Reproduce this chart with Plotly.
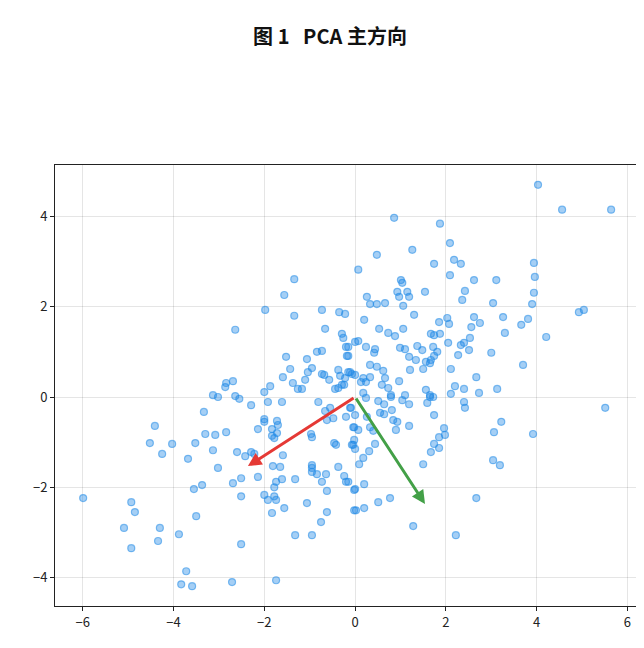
import plotly.graph_objects as go

pts = [
(-1.34,2.61),(-1.56,2.26),(-1.98,1.93),(-1.34,1.80),(-2.64,1.49),(-0.73,1.93),(-0.35,1.88),(-0.22,1.84),
(-0.66,1.51),(-0.29,1.40),(-0.26,1.31),(-0.20,1.11),(-0.18,0.91),(-1.52,0.89),(-1.06,0.84),(-0.84,1.00),
(-0.73,1.02),(-1.43,0.62),(-0.95,0.64),(-1.04,0.55),(-1.59,0.44),(-1.10,0.38),(-1.37,0.31),(-1.26,0.18),
(-1.17,0.18),(-0.73,0.51),(-0.68,0.49),(-0.57,0.38),(-0.37,0.60),(-0.33,0.47),(-0.15,0.55),(-0.07,0.51),
(-0.22,0.42),(-0.44,0.18),(-0.37,0.20),(-0.29,0.27),(-0.24,0.27),(-2.69,0.35),(-2.84,0.31),(-2.86,0.22),
(-1.87,0.24),(-2.00,0.11),(-3.13,0.04),(-3.02,0.0),(-2.64,0.02),(0.0,1.22),
(4.03,4.70),(4.56,4.15),(5.64,4.15),(0.86,3.97),(1.87,3.84),(2.09,3.41),(0.48,3.15),(1.26,3.26),(0.07,2.82),
(1.74,2.95),(2.18,3.04),(2.33,2.95),(2.09,2.70),(2.62,2.59),(3.11,2.59),(3.94,2.97),(3.96,2.66),(3.94,2.31),
(3.90,2.06),(3.04,2.08),(2.42,2.35),(2.36,2.15),(1.01,2.59),(1.04,2.53),(0.93,2.33),(1.15,2.33),(0.97,2.22),
(1.19,2.22),(1.54,2.33),(0.26,2.22),(0.33,2.06),(0.48,2.06),(0.66,2.08),(1.06,2.02),(1.30,1.82),(0.20,1.71),
(0.53,1.51),(0.73,1.42),(0.88,1.35),(1.06,1.51),(1.85,1.66),(2.03,1.75),(2.07,1.62),(1.67,1.40),(1.74,1.37),
(1.87,1.40),(2.62,1.77),(2.75,1.64),(2.56,1.55),(3.26,1.77),(3.30,1.42),(3.66,1.60),(3.81,1.73),(4.21,1.33),
(4.93,1.88),(5.04,1.93),(0.07,1.24),(0.24,1.11),(0.44,1.06),(0.42,0.98),(0.99,1.09),(1.10,1.06),(1.37,1.13),
(1.48,1.04),(1.72,1.11),(1.81,1.00),(1.74,0.91),(1.67,0.82),(2.05,1.20),(2.33,1.15),(2.40,1.20),(2.53,1.31),
(2.51,1.04),(2.27,0.93),(3.0,0.98),(3.70,0.71),(1.19,0.89),(1.34,0.82),(1.56,0.78),(1.65,0.75),(0.33,0.71),
(0.48,0.67),(0.62,0.58),(0.66,0.42),(1.21,0.60),(1.50,0.62),(2.11,0.62),(2.67,0.44),(0.97,0.35),(0.59,0.27),
(0.73,0.20),(0.79,0.04),(2.20,0.24),(2.40,0.18),(1.56,0.16),(1.65,0.04),(1.10,0.04),(2.73,0.09),(3.13,0.18),
(-0.11,0.55),(0.0,0.49),(0.18,0.42),(0.24,0.33),(0.33,0.44),(0.13,0.33),(-0.15,1.11),(-0.15,0.91),(0.18,0.09),
(5.51,-0.24),(3.92,-0.82),(3.22,-0.55),(3.06,-0.78),(3.04,-1.40),(3.19,-1.51),(2.67,-2.24),(2.22,-3.06),
(1.28,-2.86),(0.77,-2.24),(0.51,-2.33),(0.20,-2.46),(0.02,-2.51),(0.20,-1.93),(0.0,-2.04),(1.50,-1.49),
(1.67,-1.22),(1.85,-1.13),(1.74,-1.04),(1.96,-0.69),(1.98,-0.84),(1.85,-0.89),(1.74,-0.40),(1.59,-0.13),
(1.65,0.0),(1.72,0.0),(2.40,-0.11),(2.42,-0.24),(1.19,-0.16),(1.19,-0.64),(1.04,-0.07),(0.79,0.0),
(0.81,-0.29),(0.84,-0.51),(0.93,-0.55),(0.90,-0.73),(0.51,-0.09),(0.64,-0.16),(0.55,-0.35),(0.64,-0.38),
(0.24,-0.02),(0.26,-0.44),(0.33,-0.67),(0.40,-0.75),(0.44,-1.04),(0.31,-1.20),(0.18,-1.35),(0.09,-1.49),
(-0.02,-0.95),(-0.07,-1.06),(0.0,-1.15),(-0.02,-0.67),(0.07,-0.73),(0.0,-0.40),(-0.09,-0.24),(-0.15,-1.88),
(2.11,0.07),
(-5.99,-2.24),(-4.93,-2.33),(-4.85,-2.55),(-5.09,-2.90),(-4.93,-3.35),(-4.30,-2.90),(-4.34,-3.19),(-3.88,-3.04),
(-3.72,-3.86),(-3.83,-4.15),(-3.59,-4.19),(-2.71,-4.10),(-1.74,-4.06),(-2.51,-3.26),(-3.50,-2.64),(-3.55,-2.04),
(-3.37,-1.95),(-4.41,-0.64),(-4.52,-1.02),(-4.25,-1.26),(-4.03,-1.04),(-3.68,-1.37),(-3.52,-1.02),(-3.33,-0.33),
(-3.30,-0.82),(-3.08,-0.84),(-2.84,-0.78),(-3.13,-1.18),(-3.02,-1.57),(-2.55,-0.04),(-2.29,-0.18),(-1.92,-0.11),
(-1.61,-0.11),(-2.0,-0.49),(-2.0,-0.55),(-2.14,-0.71),(-1.83,-0.71),(-1.72,-0.53),(-1.70,-0.62),(-1.83,-0.86),
(-1.78,-0.91),(-1.72,-0.80),(-2.60,-1.22),(-2.42,-1.31),(-2.29,-1.22),(-2.22,-1.26),(-1.59,-1.29),(-1.81,-1.53),
(-1.65,-1.55),(-2.51,-1.80),(-2.69,-1.91),(-2.14,-1.77),(-1.61,-1.82),(-1.74,-1.88),(-1.78,-2.0),(-2.51,-2.20),
(-2.0,-2.17),(-1.92,-2.28),(-1.78,-2.20),(-1.74,-2.28),(-1.83,-2.57),(-1.56,-2.46),(-1.32,-1.82),(-1.32,-3.06),
(-0.95,-3.06),(-1.06,-2.35),(-0.75,-2.77),(-0.62,-2.55),(-0.73,-1.88),(-0.62,-2.08),(-0.95,-1.51),(-0.95,-1.57),
(-0.95,-1.66),(-0.84,-1.71),(-0.64,-1.71),(-0.37,-1.55),(-0.24,-1.75),(-0.20,-1.88),(-0.97,-0.82),(-0.95,-0.89),
(-0.46,-1.02),(-0.42,-1.06),(-0.81,-0.11),(-0.66,-0.31),(-0.55,-0.24),(-0.62,-0.51),(-0.48,-0.47),(-0.20,-0.44),
(-0.11,-0.24),(-0.04,-0.67),(-0.04,-1.06),(-0.02,-2.06),(-0.02,-2.51),
]
x = [p[0] for p in pts]
y = [p[1] for p in pts]

pc_names = ["PC1", "PC2"]
pc_x = [-2.36, 1.54]
pc_y = [-1.53, -2.37]
pc_colors = ["#e53935", "#43a047"]

fig = go.Figure()
fig.add_trace(go.Scatter(x=x, y=y, mode="markers",
    marker=dict(size=7, color="rgba(30,136,229,0.4)", line=dict(color="rgba(30,136,229,0.55)", width=1.2)),
    showlegend=False, cliponaxis=False))
for dx, dy, c in zip(pc_x, pc_y, pc_colors):
    fig.add_annotation(x=dx, y=dy, ax=0, ay=0, xref="x", yref="y", axref="x", ayref="y",
                       showarrow=True, arrowhead=2, arrowsize=0.9, arrowwidth=3, arrowcolor=c, text="")

axis = dict(showgrid=True, gridcolor="rgba(0,0,0,0.1)", zeroline=False, showline=True, linecolor="#222",
            linewidth=1, mirror=True, ticks="outside", ticklen=4, tickcolor="#222", automargin=False,
            tickfont=dict(size=13, color="#222"))
fig.update_layout(
    width=644, height=648, plot_bgcolor="white", paper_bgcolor="white",
    font=dict(family="Noto Sans CJK SC, Noto Sans, sans-serif"),
    title=dict(text="<b>图 1   PCA 主方向</b>", x=0.5, xanchor="center", y=0.955, yanchor="middle",
               font=dict(size=20, color="#111")),
    margin=dict(l=47, r=15, t=157, b=50, autoexpand=False),
    xaxis=dict(axis, range=[-6.61, 6.21], tickvals=[-6, -4, -2, 0, 2, 4, 6]),
    yaxis=dict(axis, range=[-4.63, 5.14], tickvals=[-4, -2, 0, 2, 4]),
)
fig.write_html("out.html")
